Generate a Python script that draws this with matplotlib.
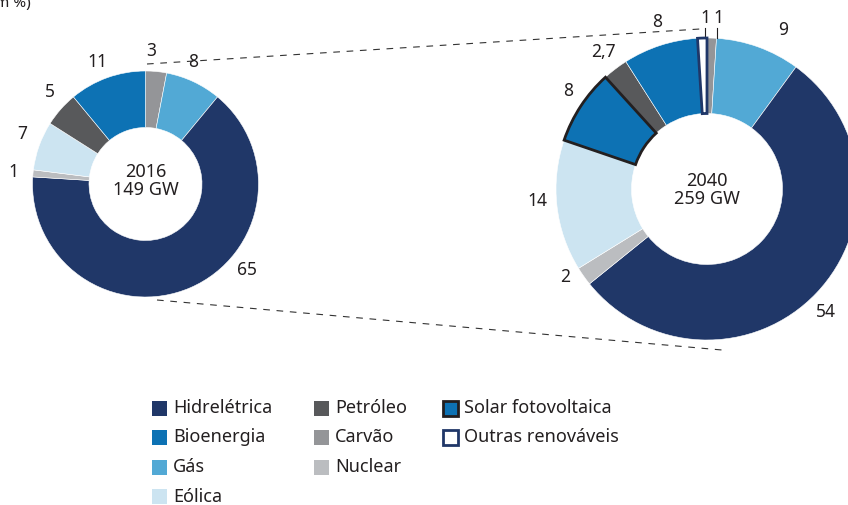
import matplotlib.pyplot as plt
from matplotlib.patches import Rectangle
from matplotlib.lines import Line2D

# ===== fonte =====
plt.rcParams['font.family'] = ['Noto Sans', 'DejaVu Sans']

# ===== dados =====
fontes = ["Carvão", "Gás", "Hidrelétrica", "Nuclear", "Eólica", "Petróleo", "Bioenergia"]
valores_2016 = [3, 8, 65, 1, 7, 5, 11]
rotulos_2016 = ["3", "8", "65", "1", "7", "5", "11"]

fontes_2040 = ["Carvão", "Gás", "Hidrelétrica", "Nuclear", "Eólica",
               "Solar fotovoltaica", "Petróleo", "Bioenergia", "Outras renováveis"]
valores_2040 = [1, 9, 54, 2, 14, 8, 2.7, 8, 1]
rotulos_2040 = ["1", "9", "54", "2", "14", "8", "2,7", "8", "1"]

legenda_colunas = [
    ["Hidrelétrica", "Bioenergia", "Gás", "Eólica"],
    ["Petróleo", "Carvão", "Nuclear"],
    ["Solar fotovoltaica", "Outras renováveis"],
]

# ===== estilos =====
cores = {
    "Hidrelétrica": "#203768",
    "Bioenergia": "#0d72b4",
    "Gás": "#52a9d5",
    "Eólica": "#cce4f1",
    "Petróleo": "#58595b",
    "Carvão": "#949598",
    "Nuclear": "#bbbdc0",
    "Solar fotovoltaica": "#0d72b4",
    "Outras renováveis": "#ffffff",
}
bordas = {"Solar fotovoltaica": "#231f20", "Outras renováveis": "#203768"}
texto = "#231f20"

W, H = 848, 505
def Y(y):
    return H - y

fig = plt.figure(figsize=(W / 100, H / 100), dpi=100)
ax = fig.add_axes([0, 0, 1, 1])

def rosca(valores, nomes, centro, raio):
    wedges, _ = ax.pie(valores, colors=[cores[n] for n in nomes], startangle=90,
                       counterclock=False, center=centro, radius=raio,
                       wedgeprops=dict(width=raio * 0.5, edgecolor="white", linewidth=0.4))
    for w, n in zip(wedges, nomes):
        if n in bordas:
            w.set_edgecolor(bordas[n])
            w.set_linewidth(2.0)
            w.set_zorder(3)
    return wedges

rosca(valores_2016, fontes, (145.5, Y(184)), 113)
rosca(valores_2040, fontes_2040, (707, Y(189)), 151)

# ===== rótulos =====
pos_2016 = [(151, 51), (193, 62), (247, 270), (13, 172), (22, 134), (50, 92), (97, 62)]
pos_2040 = [(718, 18), (783, 30), (826, 312), (565, 277), (537, 201),
            (568, 91), (603, 52), (657, 22), (705, 18)]
for r, (x, y) in zip(rotulos_2016, pos_2016):
    ax.text(x, Y(y), r, ha="center", va="center", fontsize=12.5, color=texto)
for r, (x, y) in zip(rotulos_2040, pos_2040):
    ax.text(x, Y(y), r, ha="center", va="center", fontsize=12.5, color=texto)

# pequenas linhas de chamada
for x in (705, 716.5):
    ax.plot([x, x], [Y(28), Y(38)], color=texto, lw=0.8)

ax.text(145.5, Y(181), "2016\n149 GW", ha="center", va="center", fontsize=13,
        color=texto, linespacing=1.05)
ax.text(707, Y(190), "2040\n259 GW", ha="center", va="center", fontsize=13,
        color=texto, linespacing=1.05)

ax.text(31, Y(7), "(em %)", ha="right", va="baseline", fontsize=11, color=texto)

# ===== linhas tracejadas =====
for (x0, y0), (x1, y1) in [((147, 64), (700, 29)), ((157, 300), (722, 350))]:
    ax.add_line(Line2D([x0, x1], [Y(y0), Y(y1)], color="#333333", lw=0.8,
                       linestyle=(0, (6, 6)), zorder=0))

# ===== legenda =====
col_x = [152, 314, 443]
for c, itens in enumerate(legenda_colunas):
    for i, n in enumerate(itens):
        yc = 408 + 29.5 * i
        borda = bordas.get(n, cores[n])
        lw = 2.0 if n in bordas else 0
        ax.add_patch(Rectangle((col_x[c], Y(yc) - 7.5), 15, 15, facecolor=cores[n],
                               edgecolor=borda, linewidth=lw))
        ax.text(col_x[c] + 21, Y(yc), n, ha="left", va="center", fontsize=13, color=texto)

ax.set_xlim(0, W)
ax.set_ylim(0, H)
ax.set_aspect("equal")
ax.axis("off")

fig.savefig("out.png", dpi=100)
